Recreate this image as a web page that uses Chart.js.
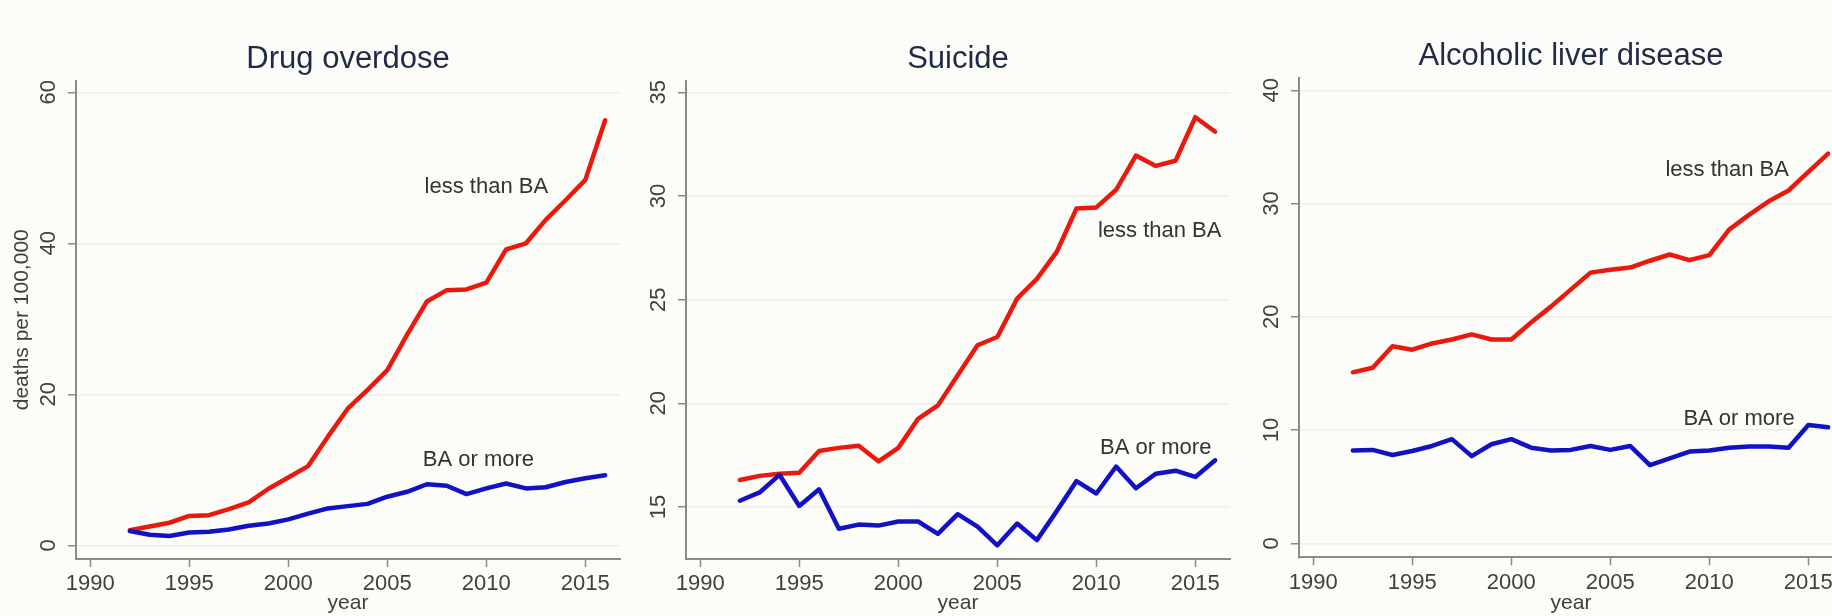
<!DOCTYPE html>
<html>
<head>
<meta charset="utf-8">
<title>Deaths per 100,000 by education</title>
<script src="https://cdn.jsdelivr.net/npm/chart.js@4.4.1/dist/chart.umd.min.js"></script>
<style>
  html, body {
    margin: 0;
    padding: 0;
    background: #fcfcf8;
    width: 1832px;
    height: 616px;
    overflow: hidden;
  }
  .panel {
    position: absolute;
    top: 0;
  }
</style>
</head>
<body>
<canvas id="drug" class="panel" width="696" height="616" style="left:0px"></canvas>
<canvas id="suicide" class="panel" width="696" height="616" style="left:610px"></canvas>
<canvas id="liver" class="panel" width="696" height="616" style="left:1223px"></canvas>

<script>
// years covered by every series
const years = [1992, 1993, 1994, 1995, 1996, 1997, 1998, 1999, 2000, 2001, 2002, 2003,
               2004, 2005, 2006, 2007, 2008, 2009, 2010, 2011, 2012, 2013, 2014, 2015, 2016];
const yearTicks = [1990, 1995, 2000, 2005, 2010, 2015];

// drug overdose
const drugLessBA = [2.0, 2.5, 3.0, 3.9, 4.0, 4.8, 5.7, 7.5, 9.0, 10.5, 14.4, 18.1,
                    20.6, 23.2, 27.9, 32.3, 33.8, 33.9, 34.8, 39.2, 40.0, 43.1, 45.7, 48.4, 56.3];
const drugBAPlus = [1.9, 1.4, 1.25, 1.7, 1.8, 2.1, 2.6, 2.9, 3.45, 4.2, 4.9, 5.2,
                    5.5, 6.45, 7.1, 8.1, 7.9, 6.8, 7.55, 8.2, 7.55, 7.7, 8.4, 8.9, 9.3];
const drugTicks = [0, 20, 40, 60];

// suicide
const suicideLessBA = [16.3, 16.5, 16.6, 16.65, 17.7, 17.85, 17.95, 17.2, 17.85, 19.25, 19.9, 21.35,
                       22.8, 23.2, 25.05, 26.0, 27.3, 29.4, 29.45, 30.3, 31.95, 31.45, 31.7, 33.8, 33.1];
const suicideBAPlus = [15.3, 15.7, 16.55, 15.05, 15.85, 13.95, 14.15, 14.1, 14.3, 14.3, 13.7, 14.65,
                       14.05, 13.15, 14.2, 13.4, 14.8, 16.25, 15.65, 16.95, 15.9, 16.6, 16.75, 16.45, 17.25];
const suicideTicks = [15, 20, 25, 30, 35];

// alcoholic liver disease
const liverLessBA = [15.1, 15.5, 17.4, 17.1, 17.65, 18.0, 18.45, 18.0, 18.0, 19.5, 20.9, 22.4,
                     23.9, 24.15, 24.35, 24.95, 25.5, 25.0, 25.45, 27.7, 29.0, 30.2, 31.15, 32.8, 34.4];
const liverBAPlus = [8.2, 8.25, 7.8, 8.15, 8.6, 9.2, 7.7, 8.75, 9.2, 8.45, 8.2, 8.25,
                     8.6, 8.25, 8.6, 6.9, 7.5, 8.1, 8.2, 8.45, 8.55, 8.55, 8.45, 10.45, 10.25];
const liverTicks = [0, 10, 20, 30, 40];

const RED = '#ea180d';
const BLUE = '#1212c4';
const AXIS = '#8a8a8a';
const TEXT = '#404040';
const CANVAS_H = 616;

Chart.defaults.font.family = "'Liberation Sans', Arial, Helvetica, sans-serif";

// text labels placed next to the lines, in data units
const lineLabels = {
  id: 'lineLabels',
  afterDatasetsDraw(chart, args, opts) {
    const ctx = chart.ctx;
    const xs = chart.scales.x, ys = chart.scales.y;
    ctx.save();
    ctx.font = "22px 'Liberation Sans', Arial, sans-serif";
    ctx.fillStyle = '#333333';
    ctx.textAlign = 'center';
    ctx.textBaseline = 'middle';
    (opts.notes || []).forEach(n => {
      ctx.fillText(n.text, xs.getPixelForValue(n.x), ys.getPixelForValue(n.y));
    });
    ctx.restore();
  }
};

const panels = [
  {
    id: 'drug', title: 'Drug overdose', top: 80.5, bottom: 559, titleTop: 40.7,
    yMin: -1.8, yMax: 61.56, yTicks: drugTicks, lessBA: drugLessBA, baPlus: drugBAPlus,
    yTitle: 'deaths per 100,000',
    notes: [{text: 'less than BA', x: 2010.0, y: 47.5}, {text: 'BA or more', x: 2009.6, y: 11.3}]
  },
  {
    id: 'suicide', title: 'Suicide', top: 80.5, bottom: 559, titleTop: 40.7,
    yMin: 12.49, yMax: 35.57, yTicks: suicideTicks, lessBA: suicideLessBA, baPlus: suicideBAPlus,
    yTitle: '',
    notes: [{text: 'less than BA', x: 2013.2, y: 28.32}, {text: 'BA or more', x: 2013.0, y: 17.83}]
  },
  {
    id: 'liver', title: 'Alcoholic liver disease', top: 77.8, bottom: 557.3, titleTop: 37.5,
    yMin: -1.23, yMax: 41.1, yTicks: liverTicks, lessBA: liverLessBA, baPlus: liverBAPlus,
    yTitle: '',
    notes: [{text: 'less than BA', x: 2010.9, y: 32.97}, {text: 'BA or more', x: 2011.5, y: 10.98}]
  }
];

const toPoints = vals => years.map((yr, i) => ({x: yr, y: vals[i]}));

panels.forEach(p => {
  const titleLine = 31 * 1.2;
  new Chart(document.getElementById(p.id), {
    type: 'line',
    data: {
      datasets: [
        {label: 'BA or more', data: toPoints(p.baPlus), borderColor: BLUE},
        {label: 'less than BA', data: toPoints(p.lessBA), borderColor: RED}
      ]
    },
    options: {
      responsive: false,
      animation: false,
      events: [],
      layout: {padding: {left: 0, right: 76, top: 0, bottom: 0}},
      elements: {
        point: {radius: 0},
        line: {borderWidth: 4.5, tension: 0, fill: false, borderJoinStyle: 'round', borderCapStyle: 'round'}
      },
      scales: {
        x: {
          type: 'linear',
          min: 1989.28,
          max: 2016.75,
          afterBuildTicks: s => { s.ticks = yearTicks.map(v => ({value: v})); },
          afterFit: s => { s.height = CANVAS_H - p.bottom; },
          grid: {drawOnChartArea: false, drawTicks: true, tickLength: 8, tickColor: AXIS, tickWidth: 1.5},
          border: {color: AXIS, width: 2},
          ticks: {
            color: TEXT, font: {size: 22}, padding: 4, maxRotation: 0,
            callback: v => String(v)
          },
          title: {display: true, text: 'year', color: TEXT, font: {size: 21}, padding: {top: 1.7, bottom: 0}}
        },
        y: {
          min: p.yMin,
          max: p.yMax,
          afterBuildTicks: s => { s.ticks = p.yTicks.map(v => ({value: v})); },
          afterFit: s => { s.width = 76; },
          grid: {color: '#efefea', lineWidth: 1.5, drawTicks: true, tickLength: 8, tickColor: AXIS, tickWidth: 1.5},
          border: {color: AXIS, width: 2},
          ticks: {
            color: TEXT, font: {size: 22}, padding: 7, minRotation: 90, maxRotation: 90,
            crossAlign: 'center', callback: v => String(v)
          },
          title: {
            display: p.yTitle !== '', text: p.yTitle, color: TEXT, font: {size: 21},
            padding: {top: 10.1, bottom: 0}
          }
        }
      },
      plugins: {
        legend: {display: false},
        tooltip: {enabled: false},
        title: {
          display: true, text: p.title, fullSize: false, color: '#1e2b48',
          font: {size: 31, weight: 'normal'},
          padding: {top: p.titleTop, bottom: p.top - p.titleTop - titleLine}
        },
        lineLabels: {notes: p.notes}
      }
    },
    plugins: [lineLabels]
  });
});
</script>
</body>
</html>
